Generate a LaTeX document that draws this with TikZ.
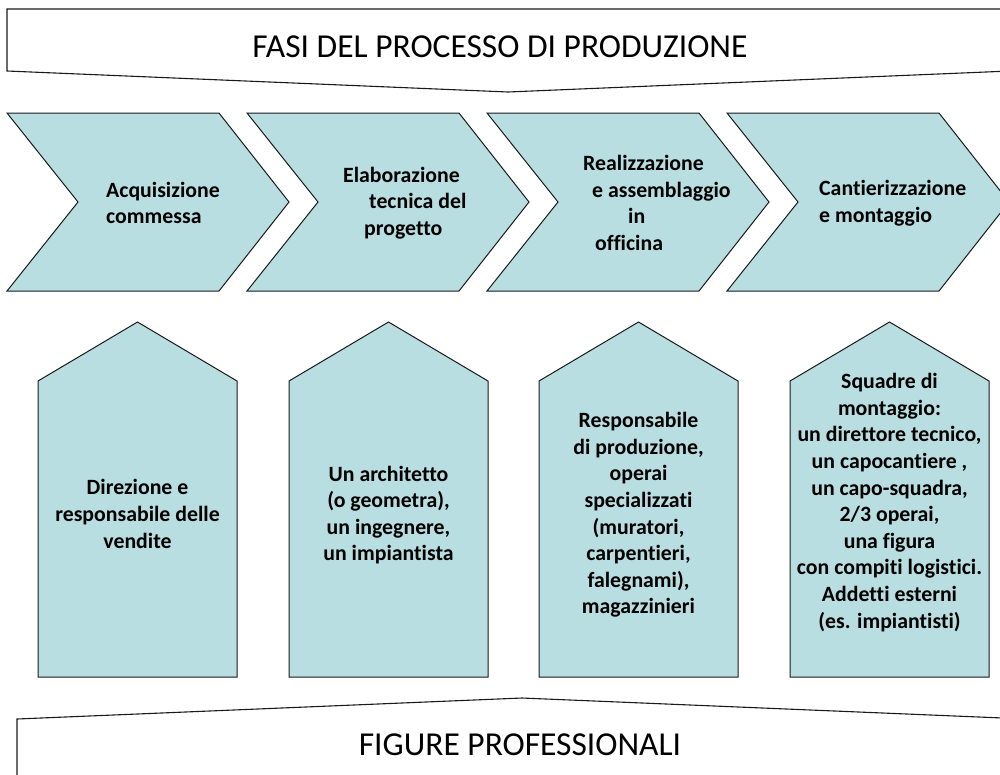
\documentclass[tikz,border=0pt]{standalone}
\usepackage{fontspec}
\setmainfont{Carlito}[Ligatures=NoCommon]
\definecolor{boxfill}{HTML}{B8DEE2}
\definecolor{edge}{HTML}{1A1A1A}
\tikzset{
  banner/.style={draw=edge, line width=1.1pt, fill=white},
  chev/.style={draw=edge, line width=1pt, fill=boxfill},
  house/.style={draw=edge, line width=1pt, fill=boxfill},
  bigtxt/.style={font=\fontsize{33.5}{40}\selectfont, inner sep=0pt},
  lbl/.style={font=\fontsize{21.8}{26.6}\selectfont\bfseries, inner sep=0pt},
}
\begin{document}
\begin{tikzpicture}[x=1pt,y=-1pt]
\useasboundingbox (0,0) rectangle (1000,774);
\clip (0,0) rectangle (1000,774);
% top banner
\draw[banner] (7,9) -- (1010,9) -- (1010,71) -- (508,92) -- (7,71) -- cycle;
\node[bigtxt] (title) at (500,47) {FASI DEL PROCESSO DI PRODUZIONE};
% chevrons
\foreach \L in {7,247,487,727}{
  \draw[chev] (\L,113) -- (\L+212,113) -- (\L+282,202) -- (\L+212,291) -- (\L,291) -- (\L+71,202) -- cycle;
}
\node[lbl, anchor=west, align=left] (t1) at (106,203) {Acquisizione\\commessa};
\node[lbl, anchor=west, align=left] (t2) at (343,203) {Elaborazione\\\hspace*{26pt}tecnica del\\\hspace*{21pt}progetto};
\node[lbl, anchor=west, align=left] (t3) at (583,203) {Realizzazione\\\hspace*{9pt}e assemblaggio\\\hspace*{45pt}in\\\hspace*{12pt}officina};
\node[lbl, anchor=west, align=left] (t4) at (819,203) {Cantierizzazione\\e montaggio};
% houses
\foreach \L in {38,289,539,790}{
  \draw[house] (\L,677) -- (\L,381) -- (\L+99.5,322) -- (\L+199,381) -- (\L+199,677) -- cycle;
}
\node[lbl, align=center] (h1) at (137.5,514) {Direzione e\\responsabile delle\\vendite};
\node[lbl, align=center] (h2) at (388.5,515) {Un architetto\\(o geometra),\\un ingegnere,\\un impiantista};
\node[lbl, align=center] (h3) at (638.5,515) {Responsabile\\di produzione,\\operai\\specializzati\\(muratori,\\carpentieri,\\falegnami),\\magazzinieri};
\node[lbl, align=center] (h4) at (889.5,502.5) {Squadre di\\montaggio:\\un direttore tecnico,\\un capocantiere ,\\un capo-squadra,\\2/3 operai,\\una figura\\con compiti logistici.\\Addetti esterni\\(es. impiantisti)};
% bottom banner
\draw[banner] (17,800) -- (17,719) -- (522,698) -- (1027,719) -- (1027,800);
\node[bigtxt] (foot) at (520,745) {FIGURE PROFESSIONALI};
\end{tikzpicture}
\end{document}
